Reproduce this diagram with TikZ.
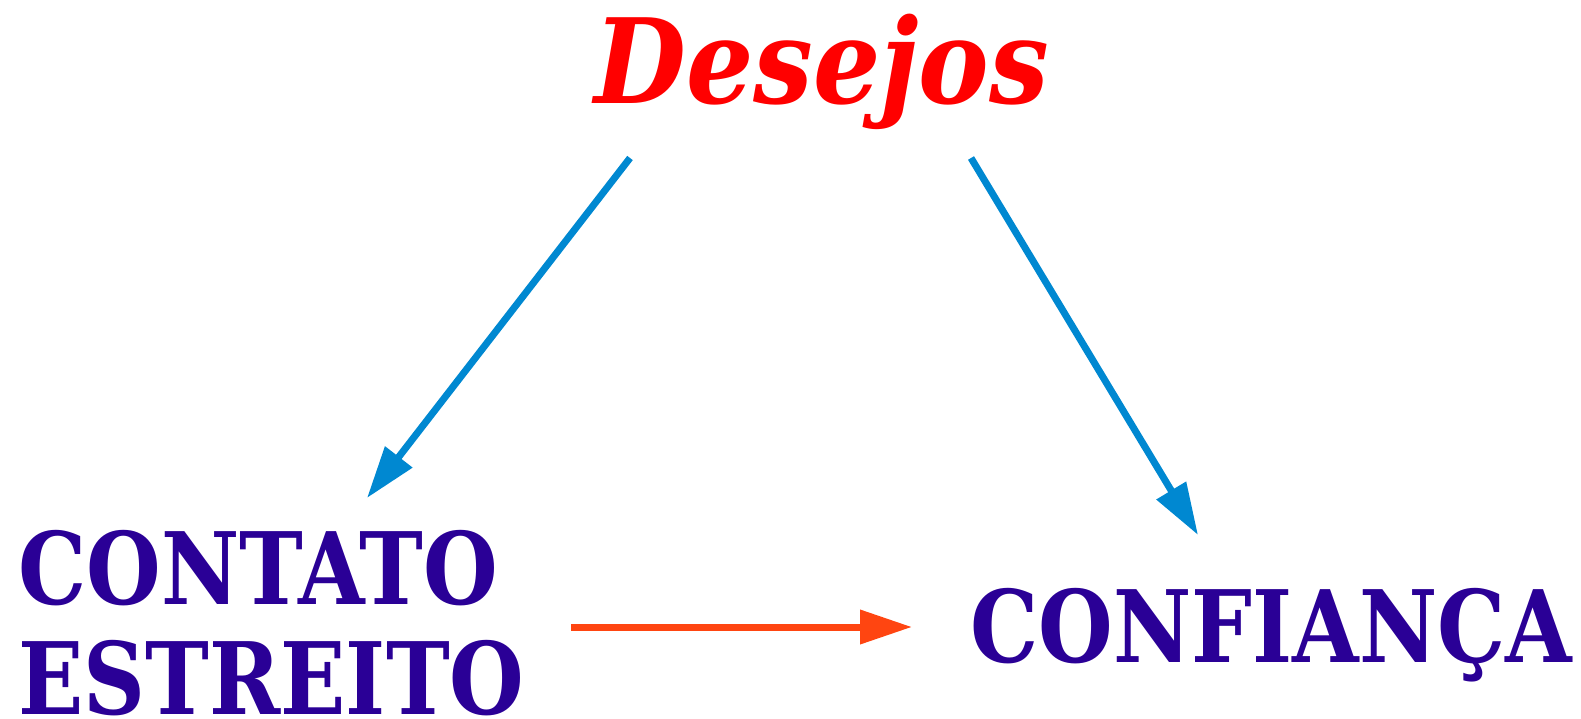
\documentclass[tikz,border=0pt]{standalone}
\usepackage{fontspec}
\setmainfont{DejaVu Serif Condensed}
\newfontfamily\termfont{DejaVu Serif Condensed}[FakeStretch=0.953]
\usepackage{xcolor}
\usepackage{tikz}
\usetikzlibrary{arrows.meta, positioning, calc}

\definecolor{deepred}{RGB}{255,0,0}
\definecolor{inkpurple}{RGB}{42,0,150}
\definecolor{skyblue}{RGB}{0,136,209}
\definecolor{flame}{RGB}{255,69,17}

\begin{document}
\begin{tikzpicture}[
    x=0.02cm, y=-0.02cm,
    wish/.style={inner sep=0pt, text=deepred, font=\fontsize{67}{75}\selectfont\bfseries\itshape},
    term/.style={inner sep=0pt, text=inkpurple, align=left, font=\termfont\fontsize{56.9}{62.6}\selectfont\bfseries},
    link/.style={-{Triangle[length=1.04cm, width=0.66cm]}, line width=0.14cm, draw=skyblue},
    flow/.style={-{Triangle[length=1.04cm, width=0.66cm]}, line width=0.14cm, draw=flame}
  ]
    \useasboundingbox (0,0) rectangle (1581,719);

    % Nodes
    \node[wish, anchor=base west] (des) at (594,104) {Desejos};
    \node[term, anchor=north west] (cont) at (18,530) {CONTATO\\ESTREITO};
    \node[term, anchor=base west] (conf) at (970,662) {CONFIANÇA};

    % Arrows
    \draw[link] ([shift={(36,54)}]des.base west) -- ([shift={(349,-32)}]cont.north west);
    \draw[link] ([shift={(377,54)}]des.base west) -- ([shift={(228,-127)}]conf.base west);
    \draw[flow] ([shift={(553,97)}]cont.north west) -- ([shift={(-58,-35)}]conf.base west);
  \end{tikzpicture}
\end{document}
